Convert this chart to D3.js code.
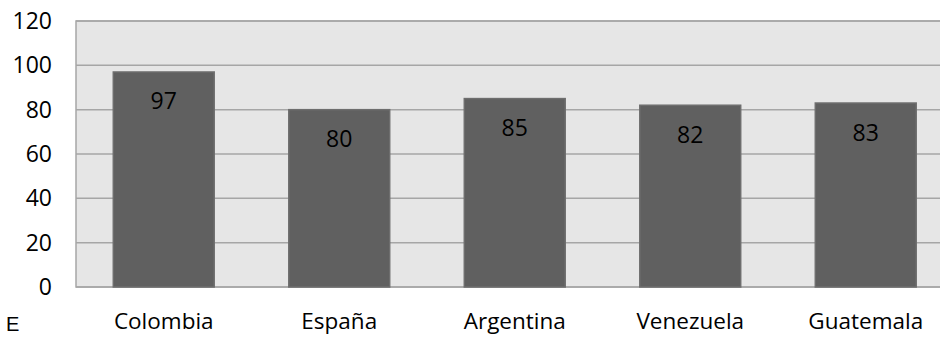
<!DOCTYPE html>
<html><head><meta charset="utf-8">
<script src="https://cdn.jsdelivr.net/npm/d3@7"></script>
<style>html,body{margin:0;padding:0;background:#fff;overflow:hidden}svg{display:block}</style>
</head><body>
<script>
const categories = ["Colombia", "España", "Argentina", "Venezuela", "Guatemala"];
const values = [97, 80, 85, 82, 83];
const yTicks = [0, 20, 40, 60, 80, 100, 120];

const W = 940, H = 337;
const m = {left: 76, top: 21, right: -13.5, bottom: 50};
const font = "'Open Sans', sans-serif";
const svg = d3.select("body").append("svg").attr("width", W).attr("height", H);

const x = d3.scaleBand().domain(categories).range([m.left, W - m.right]).paddingInner(0.425).paddingOuter(0.2125);
const y = d3.scaleLinear().domain([0, 120]).range([H - m.bottom, m.top]);

svg.append("rect").attr("x", m.left).attr("y", m.top)
  .attr("width", W - m.right - m.left).attr("height", y(0) - m.top)
  .attr("fill", "#e6e6e6").attr("stroke", "#a6a6a6").attr("stroke-width", 1.5);

svg.append("g").selectAll("line").data(yTicks).join("line")
  .attr("x1", m.left).attr("x2", W - m.right)
  .attr("y1", d => y(d)).attr("y2", d => y(d))
  .attr("stroke", "#a6a6a6").attr("stroke-width", 1.5);

const yAxis = svg.append("g").attr("transform", `translate(${m.left},0)`)
  .call(d3.axisLeft(y).tickValues(yTicks).tickSize(0).tickPadding(24));
yAxis.select(".domain").remove();
yAxis.selectAll("text").attr("font-family", font).attr("font-size", 23).attr("fill", "#000");

svg.append("g").selectAll("rect").data(values).join("rect")
  .attr("x", (d, i) => x(categories[i])).attr("width", x.bandwidth())
  .attr("y", d => y(d)).attr("height", d => y(0) - y(d))
  .attr("fill", "#606060").attr("stroke", "#6e6e6e").attr("stroke-width", 1.5);

svg.append("g").selectAll("text").data(values).join("text")
  .attr("x", (d, i) => x(categories[i]) + x.bandwidth() / 2)
  .attr("y", d => y(d) + 37.5)
  .attr("text-anchor", "middle").attr("font-family", font).attr("font-size", 23).attr("fill", "#000")
  .text(d => d);

const xAxis = svg.append("g").attr("transform", `translate(0,${y(0)})`)
  .call(d3.axisBottom(x).tickSize(0).tickPadding(0));
xAxis.select(".domain").remove();
xAxis.selectAll("text").attr("dy", null).attr("y", 41.5)
  .attr("font-family", font).attr("font-size", 22.5).attr("fill", "#000");

svg.append("text").attr("x", 6).attr("y", 331)
  .attr("font-family", "'Liberation Sans', sans-serif").attr("font-size", 20).attr("fill", "#000").text("E");
</script>
</body></html>
